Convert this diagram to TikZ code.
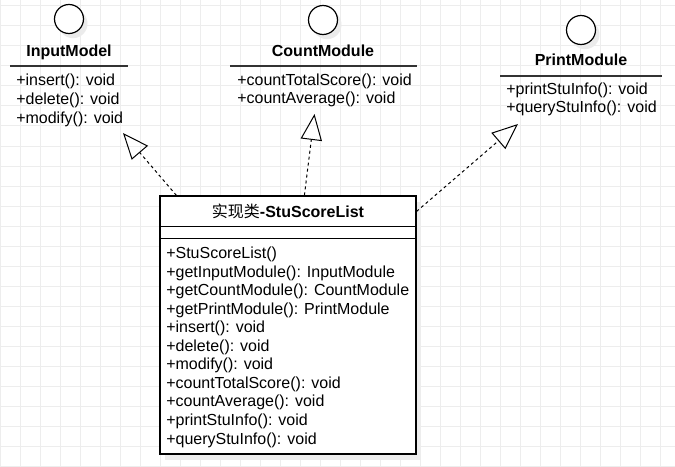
\documentclass[tikz,border=0pt]{standalone}
\usepackage{fontspec}
\setmainfont{Liberation Sans}
\newfontfamily\cjk{Noto Sans CJK SC}
\usepackage{tikz}
\usetikzlibrary{arrows.meta, shadows, calc}

\begin{document}
\begin{tikzpicture}[
    x=0.75pt, y=-0.75pt,
    >={Triangle[open, length=19.5pt, width=16pt]},
    every node/.style={inner sep=0pt, font=\fontsize{12}{14}\selectfont},
    lollipop/.style={circle, draw, line width=0.9pt, minimum size=21.75pt, fill=white,
        drop shadow={shadow xshift=3pt, shadow yshift=-3.5pt, fill=black!8, opacity=1}},
    ifname/.style={anchor=base, font=\fontsize{12}{14}\selectfont\bfseries},
    ifline/.style={line width=1.2pt, black!80},
    method/.style={anchor=base west},
    realize/.style={dash pattern=on 2.25pt off 2.25pt, line width=0.75pt, ->}
]

\useasboundingbox (0,0) rectangle (675,467);
\fill[white] (0,0) rectangle (675,467);

\def\gridstep{20}
\foreach \gx in {0,20,...,660}
    \draw[black!7, line width=0.75pt] (\gx,0) -- (\gx,467);
\foreach \gy in {6,26,...,466}
    \draw[black!7, line width=0.75pt] (0,\gy) -- (675,\gy);

% interfaces
\node[lollipop] (inCirc) at (69,19) {};
\node[ifname] (inName) at (69,56.5) {InputModel};
\draw[ifline] (10,66) -- (128,66);
\foreach \m [count=\i from 0] in {+insert(): void, +delete(): void, +modify(): void}
    \node[method] (inM\i) at (16,85+19*\i) {\m};

\node[lollipop] (cnCirc) at (323,20) {};
\node[ifname] (cnName) at (323,56.5) {CountModule};
\draw[ifline] (230,66) -- (417,66);
\foreach \m [count=\i from 0] in {+countTotalScore(): void, +countAverage(): void}
    \node[method] (cnM\i) at (237,85+18.5*\i) {\m};

\node[lollipop] (prCirc) at (581,30) {};
\node[ifname] (prName) at (581,65.5) {PrintModule};
\draw[ifline] (500,76) -- (662,76);
\foreach \m [count=\i from 0] in {+printStuInfo(): void, +queryStuInfo(): void}
    \node[method] (prM\i) at (506,94.5+18.5*\i) {\m};

% implementing class
\node[draw, line width=0.9pt, minimum width=192pt, minimum height=193.5pt, fill=white,
    drop shadow={shadow xshift=4pt, shadow yshift=-4.5pt, fill=black!7, opacity=1}] (stu) at (288,325) {};
\node[ifname] (stuName) at (288,217) {{\cjk\mdseries 实现类}-StuScoreList};
\draw[line width=0.9pt] ($(stu.north west)+(0,31)$) -- ($(stu.north east)+(0,31)$);
\draw[line width=0.9pt] ($(stu.north west)+(0,43)$) -- ($(stu.north east)+(0,43)$);
\foreach \m [count=\i from 0] in {+StuScoreList(), +getInputModule(): InputModule,
    +getCountModule(): CountModule, +getPrintModule(): PrintModule, +insert(): void,
    +delete(): void, +modify(): void, +countTotalScore(): void, +countAverage(): void,
    +printStuInfo(): void, +queryStuInfo(): void}
    \node[method] (stuM\i) at (166,258.5+18.55*\i) {\m};

\coordinate (inTip) at (123,133);
\coordinate (cnTip) at (314.5,114);
\coordinate (prTip) at (518,124);

\draw[realize] ($(stu.north west)+(17,0)$) -- (inTip);
\draw[realize] ($(stu.north west)+(145,0)$) -- (cnTip);
\draw[realize] ($(stu.north east)+(0,16)$) -- (prTip);

\end{tikzpicture}
\end{document}
